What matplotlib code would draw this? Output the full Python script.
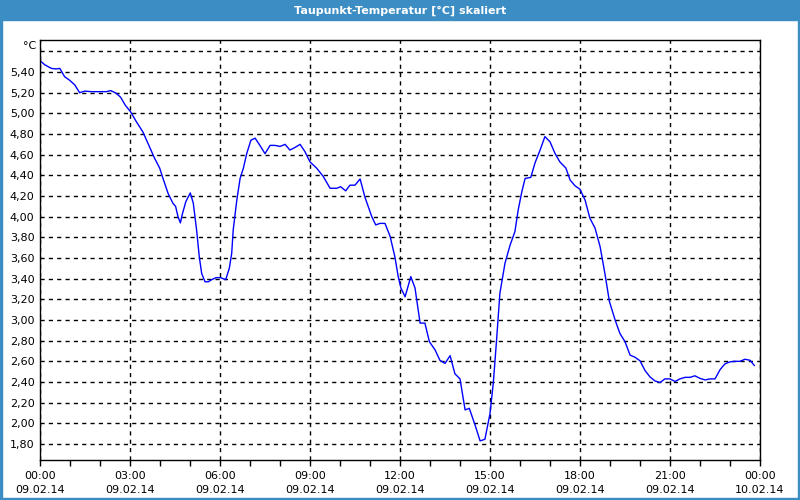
import matplotlib
matplotlib.use("Agg")
import matplotlib.pyplot as plt
from matplotlib.patches import Rectangle

# dew point readings, 09.02.14 (hours after midnight, degC)
hours = [0.00, 0.16, 0.38, 0.54, 0.66, 0.82, 0.99, 1.16, 1.32, 1.49, 1.71, 2.04,
         2.21, 2.36, 2.54, 2.69, 2.84, 3.02, 3.21, 3.43, 3.63, 3.82, 3.99, 4.10,
         4.27, 4.43, 4.52, 4.60, 4.68, 4.74, 4.86, 5.01, 5.11, 5.22, 5.31, 5.39,
         5.50, 5.61, 5.72, 5.87, 6.02, 6.19, 6.31, 6.39, 6.44, 6.56, 6.67, 6.78,
         6.89, 7.03, 7.17, 7.33, 7.50, 7.67, 7.83, 8.00, 8.17, 8.33, 8.50, 8.67,
         8.83, 9.00, 9.22, 9.44, 9.67, 9.89, 10.02, 10.19, 10.33, 10.50, 10.67,
         10.83, 11.06, 11.19, 11.33, 11.50, 11.67, 11.83, 11.94, 12.03, 12.17,
         12.36, 12.50, 12.67, 12.83, 12.98, 13.17, 13.33, 13.50, 13.67, 13.83,
         14.00, 14.17, 14.31, 14.50, 14.67, 14.83, 15.00, 15.11, 15.22, 15.33,
         15.50, 15.67, 15.83, 15.94, 16.06, 16.17, 16.36, 16.50, 16.67, 16.83,
         17.00, 17.17, 17.33, 17.53, 17.67, 17.83, 18.00, 18.17, 18.33, 18.50,
         18.67, 18.83, 18.98, 19.17, 19.33, 19.50, 19.67, 19.83, 20.00, 20.17,
         20.33, 20.50, 20.67, 20.83, 21.00, 21.17, 21.33, 21.50, 21.67, 21.83,
         22.00, 22.17, 22.33, 22.50, 22.67, 22.83, 23.00, 23.17, 23.33, 23.50,
         23.67, 23.81]
dewpoint = [5.51, 5.47, 5.435, 5.43, 5.435, 5.355, 5.32, 5.275, 5.20, 5.215, 5.21, 5.21,
            5.21, 5.22, 5.195, 5.155, 5.08, 5.015, 4.92, 4.82, 4.69, 4.565, 4.47, 4.37,
            4.225, 4.13, 4.10, 4.00, 3.94, 4.02, 4.145, 4.23, 4.13, 3.87, 3.61, 3.45,
            3.37, 3.37, 3.39, 3.41, 3.41, 3.39, 3.50, 3.645, 3.87, 4.16, 4.37, 4.47,
            4.61, 4.74, 4.76, 4.69, 4.61, 4.69, 4.69, 4.68, 4.70, 4.645, 4.67, 4.70,
            4.63, 4.53, 4.47, 4.39, 4.275, 4.275, 4.29, 4.25, 4.305, 4.305, 4.365,
            4.19, 4.00, 3.92, 3.935, 3.935, 3.81, 3.61, 3.42, 3.31, 3.225,
            3.42, 3.31, 2.97, 2.97, 2.79, 2.71, 2.61, 2.58, 2.655, 2.48,
            2.43, 2.13, 2.145, 1.985, 1.83, 1.845, 2.095, 2.39, 2.81, 3.26,
            3.55, 3.725, 3.855, 4.065, 4.24, 4.37, 4.38, 4.52, 4.645, 4.775,
            4.725, 4.61, 4.53, 4.47, 4.355, 4.30, 4.265, 4.16, 3.985, 3.89,
            3.71, 3.45, 3.18, 3.00, 2.87, 2.79, 2.66, 2.64, 2.605, 2.51,
            2.45, 2.41, 2.395, 2.43, 2.43, 2.405, 2.43, 2.445, 2.445, 2.46,
            2.435, 2.42, 2.43, 2.43, 2.52, 2.575, 2.595, 2.60, 2.60, 2.62,
            2.61, 2.56]

xtick_hours = [0, 3, 6, 9, 12, 15, 18, 21, 24]
xtick_labels = ["00:00\n09.02.14", "03:00\n09.02.14", "06:00\n09.02.14",
                "09:00\n09.02.14", "12:00\n09.02.14", "15:00\n09.02.14",
                "18:00\n09.02.14", "21:00\n09.02.14", "00:00\n10.02.14"]
ytick_values = [1.8, 2.0, 2.2, 2.4, 2.6, 2.8, 3.0, 3.2, 3.4, 3.6, 3.8, 4.0,
                4.2, 4.4, 4.6, 4.8, 5.0, 5.2, 5.4]

blue = "#3c8dc4"
plt.rcParams["font.family"] = ["DejaVu Sans"]

fig = plt.figure(figsize=(8, 5), dpi=100)
# title bar and window frame
fig.patches.append(Rectangle((0, 0.96), 1, 0.04, transform=fig.transFigure,
                             color=blue, zorder=0))
fig.patches.append(Rectangle((0, 0), 0.003, 1, transform=fig.transFigure, color=blue))
fig.patches.append(Rectangle((0.997, 0), 0.003, 1, transform=fig.transFigure, color=blue))
fig.patches.append(Rectangle((0, 0), 1, 0.005, transform=fig.transFigure, color=blue))
fig.text(0.5, 0.979, "Taupunkt-Temperatur [°C] skaliert", color="white",
         fontsize=8, fontweight="bold", ha="center", va="center")

ax = fig.add_axes([0.05, 0.08, 0.90, 0.84])
ax.plot(hours, dewpoint, color="#0000ff", lw=1)

ax.set_xlim(0, 24)
ax.set_ylim(1.645, 5.71)
ax.set_xticks(xtick_hours)
ax.set_xticklabels(xtick_labels, fontsize=8, linespacing=1.45)
ax.set_xticks(range(0, 25), minor=True)
ax.set_yticks(ytick_values + [5.6])
ax.set_yticklabels([("%.2f" % v).replace(".", ",") for v in ytick_values] + [""],
                   fontsize=8)
ax.tick_params(axis="y", length=0, pad=4)
ax.tick_params(axis="x", which="both", direction="out", length=4, width=1, pad=4)

ax.grid(True, which="major", color="black", linestyle=(0, (3, 3)), lw=1)
for s in ax.spines.values():
    s.set_color("black")
    s.set_linewidth(1)

fig.text(0.045, 0.908, "°C", fontsize=8, ha="right", va="center")

fig.savefig("out.png", dpi=100)
